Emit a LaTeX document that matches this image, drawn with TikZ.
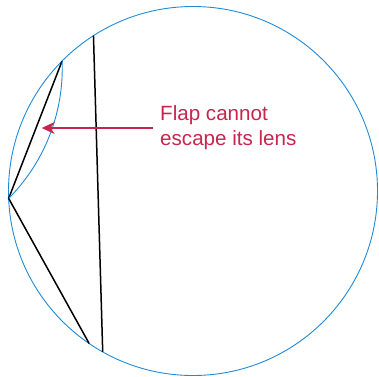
\documentclass[tikz,border=0pt]{standalone}
\usepackage{fontspec}
\setmainfont{Liberation Sans}
\usetikzlibrary{arrows.meta}
\definecolor{lensblue}{RGB}{31,139,216}
\definecolor{notered}{RGB}{199,37,78}

\begin{document}
\begin{tikzpicture}[x=1pt,y=1pt,
    crease/.style={line width=1.5pt, black},
    rim/.style={line width=0.9pt, lensblue},
    note/.style={text=notered, font=\fontsize{20.6}{25}\selectfont, align=left,
      inner xsep=7pt, inner ysep=0pt, anchor=west},
    pointer/.style={line width=1.5pt, notered, -{Stealth[length=13pt, width=12pt]}}]
    \useasboundingbox (0,0) rectangle (379,376);

    % paper disk
    \coordinate (O) at (193,185);
    \draw[rim] (O) circle[radius=184.5];

    % points on the rim
    \path (O) ++(135.2:184.5) coordinate (A)
          (O) ++(182.3:184.5) coordinate (B)
          (O) ++(235.75:184.5) coordinate (C)
          (O) ++(122.65:184.5) coordinate (D)
          (O) ++(240.7:184.5) coordinate (E);

    % flap and crease
    \draw[crease] (A) -- (B) -- (C);
    \draw[crease] (D) -- (E);

    % lens of the flap
    \draw[rim] (A) arc[start angle=2.3, end angle=-44.8, radius=184.5];

    % label
    \node[note] (msg) at (153,248) {Flap cannot\\escape its lens};
    \coordinate (tip) at (41.7,250);
    \draw[pointer] (msg.west) -- (msg.west -| tip);
\end{tikzpicture}
\end{document}
